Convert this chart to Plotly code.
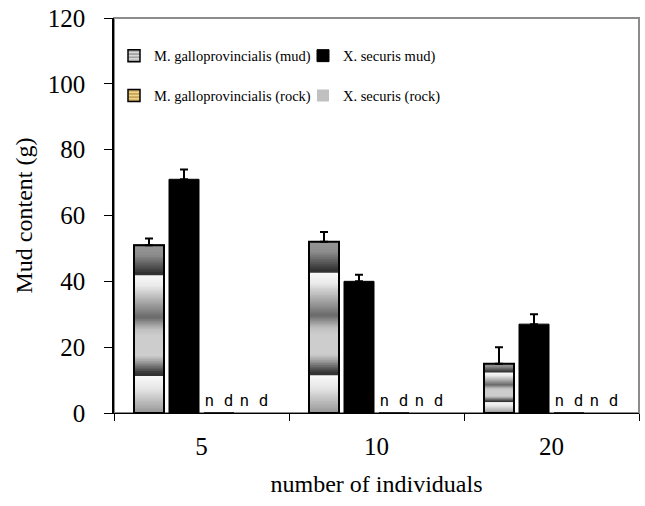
import plotly.graph_objects as go

# ---- data -------------------------------------------------------------
categories = ["5", "10", "20"]
gallo_mud = [51, 52, 15]
gallo_mud_err = [2, 3, 5]
xsec_mud = [71, 40, 27]
xsec_mud_err = [3, 2, 3]
gallo_rock = [0, 0, 0]
xsec_rock = [0, 0, 0]
rock_labels = ["n d", "n d", "n d"]

# ---- styling ----------------------------------------------------------
SERIF = "Liberation Serif, Times New Roman, serif"
# grey banding of the M. galloprovincialis bars: (fraction from bar top, grey level)
SHADE_STOPS = [
    (0.00, 150), (0.06, 140), (0.13, 80), (0.165, 50), (0.18, 50),
    (0.18, 248), (0.24, 235), (0.43, 105), (0.50, 190), (0.54, 205),
    (0.66, 205), (0.70, 150), (0.76, 55), (0.78, 50),
    (0.78, 250), (0.86, 228), (1.00, 150),
]
N_SLICES = 100


def shade(t):
    for (t0, g0), (t1, g1) in zip(SHADE_STOPS, SHADE_STOPS[1:]):
        if t1 > t0 and t0 <= t <= t1:
            g = g0 + (g1 - g0) * (t - t0) / (t1 - t0)
            return f"rgb({g:.0f},{g:.0f},{g:.0f})"
    g = SHADE_STOPS[-1][1]
    return f"rgb({g},{g},{g})"


fig = go.Figure()

# M. galloprovincialis (mud): base bar carrying the legend entry
fig.add_trace(go.Bar(
    x=categories, y=gallo_mud, name="M. galloprovincialis (mud)",
    offsetgroup="g1", legend="legend", legendgroup="gm",
    marker=dict(color="#a8a8a8", line=dict(color="black", width=1.5),
                pattern=dict(shape="-", fgcolor="#505050", bgcolor="#d8d8d8",
                             size=4, solidity=0.4)),
    hoverinfo="skip",
))

# banded fill: each slice spans from the axis up to its top edge,
# later slices cover the lower part of earlier ones
for i in range(N_SLICES):
    frac_top = i / N_SLICES
    fig.add_trace(go.Bar(
        x=categories, y=[v * (1 - frac_top) for v in gallo_mud],
        offsetgroup="g1", showlegend=False, hoverinfo="skip",
        marker=dict(color=shade((i + 0.5) / N_SLICES), line=dict(width=0)),
    ))

# outline + error bars for M. galloprovincialis (mud)
fig.add_trace(go.Bar(
    x=categories, y=gallo_mud, offsetgroup="g1", showlegend=False,
    marker=dict(color="rgba(0,0,0,0)", line=dict(color="black", width=2)),
    error_y=dict(type="data", symmetric=False, array=gallo_mud_err,
                 arrayminus=[0] * len(gallo_mud_err),
                 color="black", thickness=2, width=4),
))

# X. securis mud
fig.add_trace(go.Bar(
    x=categories, y=xsec_mud, name="X. securis mud)",
    offsetgroup="g2", legend="legend2", legendgroup="xm",
    marker=dict(color="black", line=dict(color="black", width=1)),
    error_y=dict(type="data", symmetric=False, array=xsec_mud_err,
                 arrayminus=[0] * len(xsec_mud_err),
                 color="black", thickness=2, width=4),
))

nd_font = dict(family="DejaVu Sans Mono", size=16, color="black")

# rock series: not detected
fig.add_trace(go.Bar(
    x=categories, y=gallo_rock, name="M. galloprovincialis (rock)",
    offsetgroup="g3", legend="legend", legendgroup="gr",
    marker=dict(color="#d9a845", line=dict(color="black", width=1.5),
                pattern=dict(shape="-", fgcolor="#8a5d14", bgcolor="#f0d488",
                             size=4, solidity=0.4)),
    text=rock_labels, textposition="outside", textfont=nd_font,
    constraintext="none", cliponaxis=False,
))
fig.add_trace(go.Bar(
    x=categories, y=xsec_rock, name="X. securis (rock)",
    offsetgroup="g4", legend="legend2", legendgroup="xr",
    marker=dict(color="#c0c0c0", line=dict(width=0)),
    text=rock_labels, textposition="outside", textfont=nd_font,
    constraintext="none", cliponaxis=False,
))

legend_style = dict(
    xref="paper", yref="paper", yanchor="top", xanchor="left",
    orientation="v", bgcolor="rgba(0,0,0,0)", borderwidth=0,
    font=dict(family=SERIF, size=14.5, color="black"),
    tracegroupgap=18, traceorder="grouped",
)

fig.update_layout(
    width=645, height=506,
    margin=dict(l=114, r=6, t=18, b=93),
    paper_bgcolor="white", plot_bgcolor="white",
    barmode="group", bargap=0.2, bargroupgap=0.143,
    font=dict(family=SERIF, size=24, color="black"),
    legend=dict(x=0.0, y=0.945, **legend_style),
    legend2=dict(x=0.36, y=0.945, **legend_style),
    xaxis=dict(
        type="category", categoryorder="array", categoryarray=categories,
        tickson="boundaries", ticks="outside", ticklen=7, tickwidth=1,
        tickcolor="black", showline=True, linecolor="black", linewidth=1,
        showgrid=False, tickfont=dict(family=SERIF, size=25),
        ticklabelstandoff=11,
        title=dict(text="number of individuals", standoff=16,
                   font=dict(family=SERIF, size=24)),
    ),
    yaxis=dict(
        range=[0, 120], dtick=20, ticks="outside", ticklen=8, tickwidth=1,
        tickcolor="black", showline=True, linecolor="black", linewidth=1.5,
        showgrid=False, zeroline=False, tickfont=dict(family=SERIF, size=25),
        ticklabelstandoff=14,
        title=dict(text="Mud content (g)", standoff=8,
                   font=dict(family=SERIF, size=24)),
    ),
    shapes=[dict(type="rect", xref="paper", yref="paper", x0=0, x1=1,
                 y0=0, y1=1, line=dict(color="#8c8c8c", width=2),
                 layer="below")],
)

fig.write_html("out.html")
